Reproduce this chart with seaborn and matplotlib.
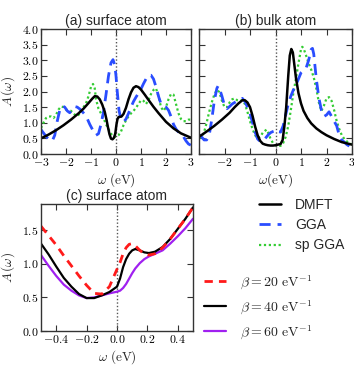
import matplotlib
matplotlib.use("Agg")
import matplotlib.pyplot as plt
import seaborn as sns
from matplotlib.lines import Line2D

# --------------------------------------------------
# Data
# --------------------------------------------------

# (a) surface atom
a_dmft_x = [-3.0, -2.7, -2.4, -2.1, -1.8, -1.5, -1.3, -1.1, -0.95, -0.85, -0.75, -0.65,
            -0.55, -0.45, -0.38, -0.32, -0.26, -0.2, -0.14, -0.08, -0.03, 0.02, 0.06, 0.1,
            0.15, 0.22, 0.3, 0.4, 0.5, 0.6, 0.7, 0.8, 0.9, 1.0, 1.15, 1.3, 1.5, 1.7, 2.0,
            2.3, 2.6, 3.0]
a_dmft_y = [0.50, 0.62, 0.76, 0.92, 1.10, 1.30, 1.45, 1.63, 1.77, 1.85, 1.84, 1.75,
            1.58, 1.35, 1.10, 0.85, 0.63, 0.49, 0.47, 0.52, 0.65, 0.95, 1.12, 1.18,
            1.19, 1.20, 1.28, 1.48, 1.75, 1.97, 2.12, 2.17, 2.14, 2.06, 1.90, 1.73, 1.51,
            1.31, 1.03, 0.82, 0.66, 0.52]

a_gga_x = [-3.0, -2.85, -2.7, -2.55, -2.45, -2.35, -2.25, -2.15, -2.05, -1.95, -1.85, -1.75,
           -1.65, -1.55, -1.45, -1.35, -1.2, -1.05, -0.9, -0.8, -0.7, -0.6, -0.5, -0.4,
           -0.3, -0.2, -0.12, -0.05, 0.0, 0.05, 0.12, 0.2, 0.3, 0.4, 0.5, 0.6, 0.7, 0.8,
           0.9, 1.0, 1.1, 1.2, 1.3, 1.4, 1.5, 1.6, 1.7, 1.8, 1.9, 2.0, 2.1, 2.2, 2.3, 2.4,
           2.5, 2.6, 2.7, 2.8, 2.9, 3.0]
a_gga_y = [0.78, 0.62, 0.47, 0.42, 0.60, 1.05, 1.40, 1.54, 1.50, 1.38, 1.32, 1.42,
           1.52, 1.50, 1.44, 1.36, 1.22, 0.95, 0.72, 0.60, 0.65, 0.95, 1.35, 1.90,
           2.50, 2.92, 3.02, 2.85, 2.50, 2.00, 1.40, 1.10, 1.02, 1.12, 1.30, 1.50, 1.68, 1.82,
           1.95, 2.08, 2.25, 2.40, 2.52, 2.52, 2.40, 2.15, 1.85, 1.60, 1.52, 1.50, 1.40, 1.20,
           0.95, 0.80, 0.70, 0.62, 0.55, 0.42, 0.32, 0.28]

a_sp_x = [-3.0, -2.9, -2.8, -2.7, -2.6, -2.5, -2.4, -2.3, -2.2, -2.1, -2.0, -1.9, -1.8,
          -1.7, -1.6, -1.5, -1.4, -1.3, -1.2, -1.1, -1.0, -0.92, -0.85, -0.8, -0.7, -0.6,
          -0.5, -0.4, -0.3, -0.2, -0.1, 0.0, 0.1, 0.2, 0.3, 0.4, 0.5, 0.6, 0.7, 0.8, 0.9,
          1.0, 1.1, 1.2, 1.3, 1.4, 1.5, 1.6, 1.7, 1.8, 1.9, 2.0, 2.1, 2.2, 2.3, 2.4, 2.5,
          2.6, 2.7, 2.8, 2.9, 3.0]
a_sp_y = [0.83, 1.00, 1.15, 1.20, 1.20, 1.15, 1.25, 1.42, 1.52, 1.50, 1.42, 1.40, 1.38,
          1.30, 1.22, 1.25, 1.38, 1.50, 1.62, 1.85, 2.15, 2.24, 2.10, 1.75, 1.45, 1.30,
          1.15, 0.95, 0.80, 0.65, 0.55, 0.55, 0.60, 0.72, 0.92, 1.08, 1.20, 1.30, 1.38, 1.48,
          1.60, 1.72, 1.70, 1.60, 1.72, 1.92, 2.05, 2.10, 1.85, 1.50, 1.38, 1.50, 1.75, 1.92,
          1.90, 1.60, 1.30, 1.12, 1.05, 1.05, 1.10, 1.10]

# (b) bulk atom
b_dmft_x = [-3.0, -2.7, -2.4, -2.1, -1.8, -1.6, -1.45, -1.3, -1.2, -1.1, -1.0, -0.9, -0.8,
            -0.7, -0.6, -0.5, -0.4, -0.3, -0.2, -0.1, 0.0, 0.1, 0.2, 0.28, 0.35, 0.42, 0.5,
            0.56, 0.62, 0.68, 0.74, 0.8, 0.9, 1.0, 1.1, 1.25, 1.4, 1.6, 1.8, 2.0, 2.3, 2.6,
            3.0]
b_dmft_y = [0.55, 0.72, 0.90, 1.10, 1.32, 1.50, 1.62, 1.72, 1.72, 1.65, 1.50, 1.22, 0.88,
            0.60, 0.42, 0.33, 0.30, 0.28, 0.27, 0.27, 0.28, 0.30, 0.32, 0.45, 0.90, 1.50, 2.50,
            3.15, 3.36, 3.25, 2.85, 2.45, 1.95, 1.62, 1.38, 1.15, 0.98, 0.82, 0.70, 0.60, 0.48,
            0.38, 0.30]

b_gga_x = [-3.0, -2.9, -2.8, -2.7, -2.6, -2.5, -2.4, -2.3, -2.25, -2.2, -2.1, -2.0, -1.9,
           -1.8, -1.7, -1.6, -1.5, -1.4, -1.3, -1.2, -1.1, -1.0, -0.9, -0.8, -0.7, -0.6,
           -0.5, -0.4, -0.3, -0.2, -0.1, 0.0, 0.05, 0.1, 0.2, 0.3, 0.4, 0.5, 0.6, 0.7, 0.8,
           0.9, 1.0, 1.1, 1.2, 1.3, 1.4, 1.45, 1.5, 1.6, 1.7, 1.8, 1.9, 2.0, 2.1, 2.2, 2.3,
           2.4, 2.5, 2.6, 2.7, 2.8, 2.9, 3.0]
b_gga_y = [0.62, 0.55, 0.45, 0.45, 0.60, 1.10, 1.70, 2.10, 2.18, 2.10, 1.85, 1.55, 1.45,
           1.52, 1.60, 1.65, 1.70, 1.75, 1.78, 1.68, 1.50, 1.30, 1.00, 0.70, 0.48, 0.40,
           0.42, 0.50, 0.60, 0.68, 0.72, 0.75, 0.78, 0.72, 0.70, 0.90, 1.25, 1.60, 1.85, 2.05, 2.20,
           2.40, 2.60, 2.68, 2.75, 3.00, 3.35, 3.38, 3.20, 2.40, 1.80, 1.40, 1.20, 1.25, 1.35, 1.20,
           1.05, 0.90, 0.60, 0.45, 0.38, 0.30, 0.25, 0.22]

b_sp_x = [-3.0, -2.9, -2.8, -2.7, -2.6, -2.5, -2.4, -2.3, -2.2, -2.1, -2.0, -1.9, -1.8,
          -1.7, -1.6, -1.5, -1.4, -1.3, -1.2, -1.1, -1.0, -0.9, -0.8, -0.7, -0.6, -0.5,
          -0.4, -0.35, -0.3, -0.2, -0.1, 0.0, 0.1, 0.2, 0.3, 0.4, 0.5, 0.6, 0.7, 0.8, 0.9,
          1.0, 1.05, 1.1, 1.2, 1.3, 1.4, 1.5, 1.6, 1.7, 1.8, 1.9, 2.0, 2.1, 2.2, 2.3, 2.4,
          2.5, 2.6, 2.7, 2.8, 2.9, 3.0]
b_sp_y = [0.50, 0.55, 0.70, 1.00, 1.35, 1.65, 1.90, 2.05, 1.98, 1.70, 1.50, 1.50, 1.65,
          1.75, 1.78, 1.72, 1.70, 1.72, 1.60, 1.35, 1.05, 0.80, 0.60, 0.50, 0.55, 0.68,
          0.75, 0.78, 0.70, 0.50, 0.35, 0.28, 0.26, 0.26, 0.35, 0.55, 0.90, 1.40, 1.95, 2.40,
          2.90, 3.35, 3.43, 3.38, 3.15, 2.90, 2.70, 2.45, 2.10, 1.65, 1.38, 1.55, 1.78, 1.82,
          1.70, 1.40, 1.05, 0.80, 0.60, 0.48, 0.40, 0.35, 0.30]

# (c) surface atom, temperature dependence
c_x = [-0.5, -0.45, -0.4, -0.35, -0.3, -0.25, -0.2, -0.15, -0.1, -0.05, 0.0, 0.02, 0.04,
       0.06, 0.08, 0.1, 0.12, 0.15, 0.18, 0.21, 0.25, 0.3, 0.35, 0.4, 0.45, 0.5]
c_beta20 = [1.56, 1.42, 1.28, 1.12, 0.97, 0.82, 0.68, 0.56, 0.55, 0.66, 0.92, 1.02, 1.15,
            1.24, 1.29, 1.30, 1.27, 1.20, 1.15, 1.13, 1.15, 1.24, 1.37, 1.52, 1.67, 1.84]
c_beta40 = [1.30, 1.14, 0.96, 0.79, 0.66, 0.55, 0.49, 0.49, 0.53, 0.58, 0.66, 0.78, 0.95,
            1.07, 1.15, 1.20, 1.22, 1.20, 1.17, 1.16, 1.18, 1.25, 1.37, 1.52, 1.67, 1.84]
c_beta60 = [1.13, 0.97, 0.82, 0.69, 0.60, 0.53, 0.49, 0.50, 0.53, 0.56, 0.585, 0.60, 0.64,
            0.70, 0.78, 0.86, 0.93, 1.01, 1.07, 1.11, 1.15, 1.20, 1.30, 1.41, 1.53, 1.67]

method_labels = ["DMFT", "GGA", "sp GGA"]
beta_labels = [r"$\beta = 20\ \mathrm{eV}^{-1}$",
               r"$\beta = 40\ \mathrm{eV}^{-1}$",
               r"$\beta = 60\ \mathrm{eV}^{-1}$"]

wide_ticks = [-3, -2, -1, 0, 1, 2, 3]
a_yticks = [0.0, 0.5, 1.0, 1.5, 2.0, 2.5, 3.0, 3.5, 4.0]
c_xticks = [-0.4, -0.2, 0.0, 0.2, 0.4]
c_yticks = [0.0, 0.5, 1.0, 1.5]

# --------------------------------------------------
# Style
# --------------------------------------------------

sns.set_style("ticks", {"xtick.direction": "in", "ytick.direction": "in"})
plt.rcParams["font.family"] = ["Liberation Sans", "DejaVu Sans"]
plt.rcParams["mathtext.fontset"] = "cm"
plt.rcParams["axes.edgecolor"] = "#333333"
plt.rcParams["axes.linewidth"] = 1.0

BLACK = "black"
BLUE = "#2a4dff"
GREEN = "#33cc33"
RED = "#ff1a1a"
PURPLE = "#a020f0"

fig = plt.figure(figsize=(3.54, 3.69), dpi=100)

ax_a = fig.add_axes([41 / 354, 1 - 154 / 369, 150 / 354, 125 / 369])
ax_b = fig.add_axes([199 / 354, 1 - 154 / 369, 153 / 354, 125 / 369])
ax_c = fig.add_axes([41 / 354, 1 - 331 / 369, 152 / 354, 127 / 369])


def math_labels(vals, fmt):
    return [("$" + fmt + "$").format(v) for v in vals]


def style_axes(ax):
    ax.tick_params(which="both", top=True, right=True, length=4, width=0.8,
                   labelsize=8.5, pad=2, colors="#333333", labelcolor="black")
    ax.axvline(0, color="#555555", lw=1.0, ls=(0, (1, 1.5)), zorder=1)


# ----------------------------
# (a) surface atom
# ----------------------------

sns.lineplot(x=a_sp_x, y=a_sp_y, ax=ax_a, color=GREEN, lw=1.6, linestyle=(0, (1, 1.2)))
sns.lineplot(x=a_gga_x, y=a_gga_y, ax=ax_a, color=BLUE, lw=2.0, linestyle=(0, (4, 2.5)))
sns.lineplot(x=a_dmft_x, y=a_dmft_y, ax=ax_a, color=BLACK, lw=1.8)
style_axes(ax_a)
ax_a.set_xlim(-3, 3)
ax_a.set_ylim(0, 4)
ax_a.set_xticks(wide_ticks, labels=math_labels(wide_ticks, "{:d}"))
ax_a.set_yticks(a_yticks, labels=math_labels(a_yticks, "{:.1f}"))
ax_a.set_title("(a) surface atom", fontsize=10, pad=3)
ax_a.set_xlabel(r"$\omega\ \mathrm{(eV)}$", fontsize=9.5, labelpad=2)
ax_a.set_ylabel(r"$A\,(\omega)$", fontsize=9.5, labelpad=3)

# ----------------------------
# (b) bulk atom
# ----------------------------

sns.lineplot(x=b_sp_x, y=b_sp_y, ax=ax_b, color=GREEN, lw=1.6, linestyle=(0, (1, 1.2)))
sns.lineplot(x=b_gga_x, y=b_gga_y, ax=ax_b, color=BLUE, lw=2.0, linestyle=(0, (4, 2.5)))
sns.lineplot(x=b_dmft_x, y=b_dmft_y, ax=ax_b, color=BLACK, lw=1.8)
style_axes(ax_b)
ax_b.set_xlim(-3, 3)
ax_b.set_ylim(0, 4)
ax_b.set_xticks(wide_ticks, labels=[""] + math_labels(wide_ticks[1:], "{:d}"))
ax_b.set_yticks(a_yticks, labels=[])
ax_b.set_title("(b) bulk atom", fontsize=10, pad=3)
ax_b.set_xlabel(r"$\omega\mathrm{(eV)}$", fontsize=9.5, labelpad=2)
ax_b.set_ylabel("")

# ----------------------------
# (c) surface atom vs beta
# ----------------------------

sns.lineplot(x=c_x, y=c_beta60, ax=ax_c, color=PURPLE, lw=1.6)
sns.lineplot(x=c_x, y=c_beta40, ax=ax_c, color=BLACK, lw=1.6)
sns.lineplot(x=c_x, y=c_beta20, ax=ax_c, color=RED, lw=2.0, linestyle=(0, (3, 2.2)))
style_axes(ax_c)
ax_c.set_xlim(-0.5, 0.5)
ax_c.set_ylim(0, 1.89)
ax_c.set_xticks(c_xticks, labels=math_labels(c_xticks, "{:.1f}"))
ax_c.set_yticks(c_yticks, labels=math_labels(c_yticks, "{:.1f}"))
ax_c.set_title("(c) surface atom", fontsize=10, pad=3)
ax_c.set_xlabel(r"$\omega\ \mathrm{(eV)}$", fontsize=9.5, labelpad=2)
ax_c.set_ylabel(r"$A\,(\omega)$", fontsize=9.5, labelpad=3)

# ----------------------------
# Legends
# ----------------------------

method_handles = [
    Line2D([], [], color=BLACK, lw=1.8),
    Line2D([], [], color=BLUE, lw=2.0, ls=(0, (4, 2.5))),
    Line2D([], [], color=GREEN, lw=1.6, ls=(0, (1, 1.2))),
]
fig.legend(method_handles, method_labels, loc="upper left",
           bbox_to_anchor=(259 / 354, 1 - 198 / 369), frameon=False,
           fontsize=10, handlelength=1.6, handletextpad=1.0,
           labelspacing=0.45, borderpad=0, borderaxespad=0)

beta_handles = [
    Line2D([], [], color=RED, lw=2.0, ls=(0, (3, 2.2))),
    Line2D([], [], color=BLACK, lw=1.6),
    Line2D([], [], color=PURPLE, lw=1.6),
]
fig.legend(beta_handles, beta_labels, loc="upper left",
           bbox_to_anchor=(204 / 354, 1 - 273 / 369), frameon=False,
           fontsize=10, handlelength=1.6, handletextpad=1.0,
           labelspacing=0.5, borderpad=0, borderaxespad=0)

plt.savefig("out.png", dpi=100)
plt.close()
